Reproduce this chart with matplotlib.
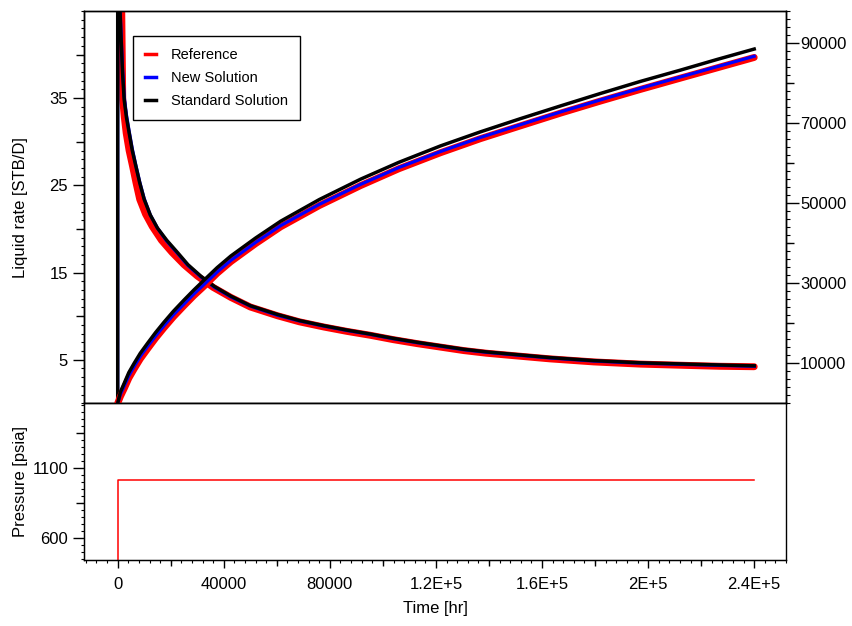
import matplotlib
matplotlib.use("Agg")
import matplotlib.pyplot as plt
from matplotlib.lines import Line2D
from matplotlib.ticker import FixedLocator, MultipleLocator

plt.rcParams['font.family'] = ['Liberation Sans', 'DejaVu Sans']

# liquid rate [STB/D] vs time [hr]
t_rate = [0, 0, 500, 800, 1200, 1800, 2450, 3300, 4330, 5500,
          6850, 8300, 9980, 12300, 15000, 18500, 22550, 26500, 31300, 36500,
          42650, 50000, 60200, 68500, 77800, 86500, 95350, 104000, 112900, 121700,
          130500, 139000, 148100, 163000, 179500, 197000, 214600, 227000, 240000]
rate_std = [0, 60, 49, 45.5, 42.4, 38.0, 34.8, 32.8, 31.0, 29.0,
            27.2, 25.3, 23.4, 21.6, 20.1, 18.7, 17.3, 15.9, 14.6, 13.4,
            12.3, 11.2, 10.2, 9.5, 8.9, 8.4, 7.94, 7.45, 7.0, 6.6,
            6.2, 5.9, 5.65, 5.25, 4.9, 4.65, 4.5, 4.4, 4.3]
rate_new = [0, 60, 49.5, 46, 43, 38.5, 35.2, 33.1, 31.2, 29.2,
            27.3, 25.4, 23.5, 21.6, 20.1, 18.6, 17.2, 15.8, 14.5, 13.3,
            12.2, 11.15, 10.1, 9.45, 8.85, 8.35, 7.9, 7.4, 6.95, 6.55,
            6.15, 5.85, 5.6, 5.2, 4.85, 4.6, 4.45, 4.35, 4.25]
t_rate_ref = [1400, 1500, 1700, 1900, 2500, 3200, 4300, 5600, 6900, 8300,
              10500, 13000, 16500, 20500, 25000, 30000, 36000, 42650, 50000, 60200,
              68500, 77800, 86500, 95350, 104000, 112900, 121700, 130500, 139000, 148100,
              163000, 179500, 197000, 214600, 227000, 240000]
rate_ref = [48, 45.5, 40.0, 34.8, 32.8, 31.0, 29.0, 27.2, 25.3, 23.4,
            21.7, 20.3, 18.7, 17.3, 15.9, 14.6, 13.3, 12.15, 11.05, 10.05,
            9.35, 8.75, 8.25, 7.8, 7.3, 6.85, 6.45, 6.05, 5.75, 5.5,
            5.1, 4.75, 4.5, 4.35, 4.25, 4.2]

# cumulative production (right axis)
t_cum = [0, 1000, 2450, 4200, 6200, 8500, 11250, 14300, 17500, 21000,
         25000, 28700, 32600, 37500, 42650, 52000, 61460, 76000, 91600, 106000,
         121700, 136700, 151800, 167000, 182000, 197000, 212000, 226000, 240000]
cum_std = [0, 2800, 5000, 7700, 10000, 12500, 15000, 17700, 20300, 23000,
           25800, 28300, 30800, 33900, 36800, 41300, 45500, 50900, 56000, 60200,
           64300, 67800, 71100, 74300, 77400, 80400, 83200, 85900, 88500]
cum_new = [0, 2200, 4300, 6900, 9200, 11700, 14200, 16800, 19400, 22100,
           24800, 27300, 29700, 32800, 35700, 40200, 44400, 49700, 54700, 58900,
           62900, 66400, 69600, 72800, 75800, 78700, 81500, 84100, 86700]
cum_ref = [0, 1700, 3700, 6300, 8600, 11100, 13600, 16300, 18900, 21600,
           24400, 26900, 29300, 32500, 35400, 39900, 44100, 49400, 54400, 58600,
           62600, 66100, 69300, 72500, 75500, 78400, 81200, 83800, 86400]

# pressure [psia]
t_pres = [0, 0, 240000]
pres = [0, 1015, 1015]

x_ticks = [0, 40000, 80000, 120000, 160000, 200000, 240000]
x_labels = ['0', '40000', '80000', '1.2E+5', '1.6E+5', '2E+5', '2.4E+5']

fig = plt.figure(figsize=(8.53, 6.26), dpi=100)
ax = fig.add_axes([0.0985, 0.3557, 0.823, 0.6267])
axp = fig.add_axes([0.0985, 0.1054, 0.823, 0.2503], sharex=ax)
ax2 = ax.twinx()

# rate curves
ax.plot(t_rate_ref, rate_ref, color='red', lw=5, solid_capstyle='round', zorder=2)
ax.plot(t_rate, rate_new, color='blue', lw=2.3, zorder=3)
ax.plot(t_rate, rate_std, color='black', lw=2.5, zorder=4)

# cumulative curves
ax2.plot(t_cum, cum_ref, color='red', lw=5, solid_capstyle='round', zorder=2)
ax2.plot(t_cum, cum_new, color='blue', lw=2.3, zorder=3)
ax2.plot(t_cum, cum_std, color='black', lw=2.5, zorder=4)

axp.plot(t_pres, pres, color='red', lw=1.1)

# limits
axp.set_xlim(-12700, 252000)
ax.set_ylim(0, 45)
ax2.set_ylim(0, 98000)
axp.set_ylim(445, 1564)

tick_fs = 12
for a in (ax, ax2, axp):
    for s in a.spines.values():
        s.set_linewidth(1.0)

# left axis of top panel
ax.yaxis.set_major_locator(FixedLocator([5, 15, 25, 35]))
ax.yaxis.set_minor_locator(MultipleLocator(1))
ax.tick_params(axis='y', which='major', direction='out', length=8, width=1, labelsize=tick_fs)
ax.tick_params(axis='y', which='minor', direction='out', length=2.5, width=0.8)
ax.tick_params(axis='x', which='both', bottom=False, labelbottom=False)
sec = ax.secondary_yaxis('left')
sec.set_yticks([10, 20, 30, 40])
sec.set_yticklabels([])
sec.tick_params(length=5.5, width=1)
ax.set_ylabel('Liquid rate [STB/D]', fontsize=12)
ax.yaxis.set_label_coords(-0.08, 0.5)

# right axis
ax2.yaxis.set_major_locator(FixedLocator([10000, 30000, 50000, 70000, 90000]))
ax2.yaxis.set_minor_locator(MultipleLocator(2000))
ax2.tick_params(axis='y', which='major', direction='out', length=9, width=1, labelsize=tick_fs, pad=1)
ax2.tick_params(axis='y', which='minor', direction='out', length=3, width=0.8)
sec2 = ax2.secondary_yaxis('right')
sec2.set_yticks([20000, 40000, 60000, 80000])
sec2.set_yticklabels([])
sec2.tick_params(length=6, width=1)

# pressure panel
axp.yaxis.set_major_locator(FixedLocator([600, 1100]))
axp.yaxis.set_minor_locator(MultipleLocator(50))
axp.tick_params(axis='y', which='major', direction='out', length=8, width=1, labelsize=tick_fs)
axp.tick_params(axis='y', which='minor', direction='out', length=2.5, width=0.8)
secp = axp.secondary_yaxis('left')
secp.set_yticks([850, 1350])
secp.set_yticklabels([])
secp.tick_params(length=5.5, width=1)
axp.set_ylabel('Pressure [psia]', fontsize=12)
axp.yaxis.set_label_coords(-0.08, 0.5)

axp.set_xticks(x_ticks, x_labels)
axp.xaxis.set_minor_locator(MultipleLocator(4000))
axp.tick_params(axis='x', which='major', direction='out', length=6, width=1, labelsize=tick_fs, pad=6)
axp.tick_params(axis='x', which='minor', direction='out', length=2.5, width=0.8)
secx = axp.secondary_xaxis('bottom')
secx.set_xticks([20000, 60000, 100000, 140000, 180000, 220000])
secx.set_xticklabels([])
secx.tick_params(length=4.5, width=1)
axp.set_xlabel('Time [hr]', fontsize=12, labelpad=7)

handles = [Line2D([], [], color='red', lw=2.5),
           Line2D([], [], color='blue', lw=2.5),
           Line2D([], [], color='black', lw=2.5)]
leg = ax.legend(handles, ['Reference', 'New Solution', 'Standard Solution'],
                loc='upper left', bbox_to_anchor=(0.07, 0.936), borderaxespad=0,
                fontsize=10.5, handlelength=0.8, handletextpad=1.0, labelspacing=0.62,
                borderpad=0.8, fancybox=False, framealpha=1, edgecolor='black')
leg.get_frame().set_linewidth(1.0)
leg.set_zorder(10)

fig.savefig('out.png', dpi=100)
